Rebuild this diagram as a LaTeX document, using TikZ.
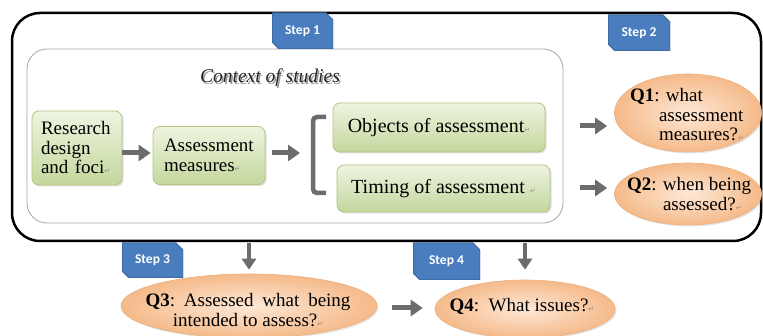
\documentclass[tikz,border=0pt]{standalone}
\usepackage{fontspec}
\setmainfont{Liberation Serif}
\newfontfamily\stepfont{Carlito}
\newfontfamily\dvfont{DejaVu Sans}
\usetikzlibrary{arrows.meta,shadows,shapes.geometric}
\definecolor{stepblue}{RGB}{74,125,190}
\definecolor{stepedge}{RGB}{58,100,155}
\definecolor{arrowgray}{RGB}{108,108,108}
\definecolor{greentop}{RGB}{238,244,224}
\definecolor{greenbot}{RGB}{196,215,157}
\definecolor{greenedge}{RGB}{175,198,130}
\definecolor{orangein}{RGB}{253,232,214}
\definecolor{orangeout}{RGB}{245,186,138}
\definecolor{orangeedge}{RGB}{236,176,126}
\newcommand{\retmark}{{\dvfont\fontsize{7}{7}\selectfont\color{black!45}↵}}
\tikzset{
  greenbox/.style={rounded corners=7pt, draw=greenedge, line width=0.8pt,
    top color=greentop, bottom color=greenbot, inner sep=0pt,
    drop shadow={opacity=0.25, shadow xshift=1.5pt, shadow yshift=-1.5pt},
    font=\fontsize{19}{19.5}\selectfont},
  qellipse/.style={ellipse, draw=orangeedge, line width=0.6pt, inner sep=0pt,
    shading=radial, inner color=orangein, outer color=orangeout,
    drop shadow={opacity=0.2, shadow xshift=1.5pt, shadow yshift=-1.5pt}},
  qtext/.style={inner sep=0pt, font=\fontsize{19}{19.5}\selectfont},
  steptab/.style={inner sep=0pt, text=white,
    font=\stepfont\bfseries\fontsize{13.5}{14}\selectfont,
    path picture={\fill[stepblue, draw=stepedge, line width=1pt]
      (path picture bounding box.north west)
      -- ([xshift=-7pt]path picture bounding box.north east)
      -- ([yshift=-7pt]path picture bounding box.north east)
      -- (path picture bounding box.south east)
      -- ([xshift=7pt]path picture bounding box.south west)
      -- ([yshift=7pt]path picture bounding box.south west) -- cycle;}},
  bigarrow/.style={draw=arrowgray, line width=5pt,
    -{Triangle[length=12pt,width=16pt]}},
  downarrow/.style={draw=arrowgray, line width=4.5pt,
    -{Triangle[length=11pt,width=14pt]}},
}
\begin{document}
\begin{tikzpicture}[x=1pt,y=-1pt]
\useasboundingbox[fill=white] (0,0) rectangle (763,336);
% outer frame
\node[draw=black, line width=2.5pt, rounded corners=28pt,
  minimum width=749pt, minimum height=228pt] (outer) at (386.5,127) {};
% inner context frame
\node[draw=black!35, line width=0.8pt, rounded corners=20pt, fill=white,
  minimum width=536pt, minimum height=174pt] (inner) at (295,136) {};
% context title with shadow
\node[text=black!40, font=\itshape\fontsize{19.5}{20}\selectfont] (ctxs) at (271.5,79.5) {Context of studies};
\node[text=black!85, font=\itshape\fontsize{19.5}{20}\selectfont] (ctx) at (270,78) {Context of studies};
% step tabs
\node[steptab, minimum width=61pt, minimum height=36pt] (s1) at (302.5,31) {Step 1};
\node[steptab, minimum width=62pt, minimum height=36pt] (s2) at (639,33) {Step 2};
\node[steptab, minimum width=61pt, minimum height=35pt] (s3) at (152.5,260.5) {Step 3};
\node[steptab, minimum width=67pt, minimum height=37pt] (s4) at (446.5,261.5) {Step 4};
% green boxes
\node[greenbox, minimum width=90pt, minimum height=74pt, align=left, text width=72pt] (rd) at (77,148)
  {Research\\design\\and foci\retmark};
\node[greenbox, minimum width=112pt, minimum height=58pt, align=left, text width=90pt] (am) at (209,155.5)
  {Assessment\\measures\retmark};
\node[greenbox, minimum width=212pt, minimum height=49pt, font=\fontsize{20}{20}\selectfont] (obj) at (439,127.5)
  {Objects of assessment\retmark};
\node[greenbox, minimum width=213pt, minimum height=47pt, font=\fontsize{20}{20}\selectfont] (tim) at (443.5,188.5)
  {Timing of assessment \retmark};
% bracket
\coordinate (brt) at (326,117);
\coordinate (brb) at (326,193);
\draw[arrowgray, line width=4.5pt, rounded corners=4pt] (brt) -- (313,117) -- (313,193) -- (brb);
% question ellipses
\node[qellipse, minimum width=147pt, minimum height=78pt] (q1) at (688,113) {};
\node[qtext, align=left] (q1t) at (687,115)
  {\textbf{Q1}: what\\\hspace*{29pt}assessment\\\hspace*{29pt}measures?\retmark};
\node[qellipse, minimum width=147pt, minimum height=62pt] (q2) at (688,194) {};
\node[qtext, align=left] (q2t) at (689,194)
  {\textbf{Q2}: when being\\\hspace*{36pt}assessed?\retmark};
\node[qellipse, minimum width=256pt, minimum height=64pt] (q3) at (249,306) {};
\node[qtext, align=center] (q3t) at (248,310)
  {\makebox[205pt][s]{\textbf{Q3}:\hfill Assessed\hfill what\hfill being}\\intended to assess?\retmark};
\node[qellipse, minimum width=180pt, minimum height=58pt] (q4) at (525,309) {};
\node[qtext] (q4t) at (522,306) {\textbf{Q4}:\ \ What issues?\retmark};
% arrows
\draw[bigarrow, shorten >=2pt] ([yshift=2.5pt]rd.east |- am.west) -- ([yshift=2.5pt]am.west);
\coordinate (amarr) at (272,153);
\draw[bigarrow] (amarr) -- (300,153);
\coordinate (a1s) at (580,126);
\draw[bigarrow, shorten >=7pt] (a1s) -- (a1s -| q1.west);
\coordinate (a2s) at (580,188);
\draw[bigarrow, shorten >=7pt] (a2s) -- (a2s -| q2.west);
\draw[downarrow, shorten <=1pt, shorten >=4pt] (outer.south -| q3.north) -- (q3.north);
\draw[downarrow, shorten <=1pt, shorten >=10pt] (outer.south -| q4.north) -- (q4.north);
\draw[bigarrow, shorten <=15pt, shorten >=12pt] (q3.east |- 0,308) -- (q4.west |- 0,308);
\end{tikzpicture}
\end{document}
